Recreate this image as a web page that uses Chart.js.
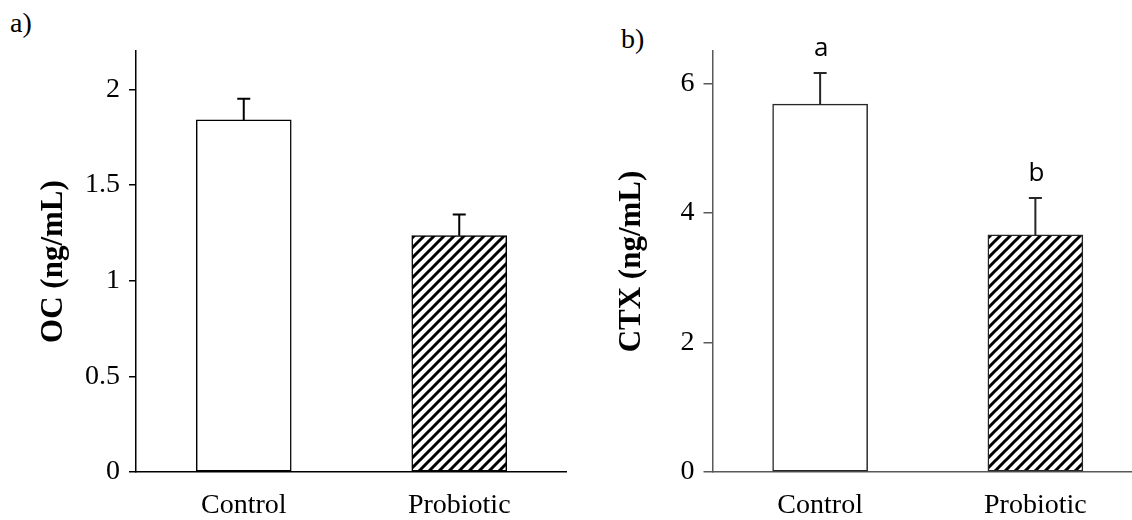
<!DOCTYPE html>
<html>

<head>
    <meta charset="utf-8">
    <title>OC and CTX</title>
    <script src="https://cdn.jsdelivr.net/npm/chart.js"></script>
    <style>
        body { margin: 0; width: 1132px; height: 520px; overflow: hidden; background: #fff; position: relative; }
        .panel { position: absolute; top: 0; }
        .tag { position: absolute; font-family: "Liberation Serif", "Times New Roman", serif; font-size: 28px; line-height: 28px; color: #000; }
    </style>
</head>

<body>
    <div class="tag" style="left: 10px; top: 9px;">a)</div>
    <div class="tag" style="left: 621px; top: 25px;">b)</div>
    <canvas id="chartA" class="panel" width="567" height="520" style="left: 0;"></canvas>
    <canvas id="chartB" class="panel" width="577" height="520" style="left: 566px;"></canvas>
    <script>
    // data
    const categories = ['Control', 'Probiotic'];
    const ocMeans = [1.84, 1.235];
    const ocErrors = [0.11, 0.11];
    const ocTicks = [0, 0.5, 1, 1.5, 2];
    const ctxMeans = [5.68, 3.66];
    const ctxErrors = [0.48, 0.57];
    const ctxLetters = ['a', 'b'];
    const ctxTicks = [0, 2, 4, 6];

    const serif = '"Liberation Serif", "Times New Roman", serif';

    // diagonal hatch for the probiotic bar
    function hatch() {
        const c = document.createElement('canvas');
        c.width = 10;
        c.height = 10;
        const g = c.getContext('2d');
        g.fillStyle = '#fff';
        g.fillRect(0, 0, 10, 10);
        g.strokeStyle = '#000';
        g.lineWidth = 3;
        g.beginPath();
        g.moveTo(-2, 12); g.lineTo(12, -2);
        g.moveTo(-2, 2); g.lineTo(2, -2);
        g.moveTo(8, 12); g.lineTo(12, 8);
        g.stroke();
        return g.createPattern(c, 'repeat');
    }

    // error bars (upper half only) + optional letters
    const errorBars = {
        id: 'errorBars',
        afterDatasetsDraw(chart, args, opts) {
            const ctx = chart.ctx;
            const y = chart.scales.y;
            const meta = chart.getDatasetMeta(0);
            const means = chart.data.datasets[0].data;
            ctx.save();
            ctx.strokeStyle = opts.color;
            ctx.lineWidth = 2;
            meta.data.forEach((bar, i) => {
                const top = y.getPixelForValue(means[i] + opts.errors[i]);
                const base = y.getPixelForValue(means[i]);
                ctx.beginPath();
                ctx.moveTo(bar.x, base);
                ctx.lineTo(bar.x, top);
                ctx.moveTo(bar.x - 6.5, top);
                ctx.lineTo(bar.x + 6.5, top);
                ctx.stroke();
                if (opts.letters) {
                    ctx.fillStyle = '#000';
                    ctx.font = '26px "Open Sans", sans-serif';
                    ctx.textAlign = 'center';
                    ctx.textBaseline = 'alphabetic';
                    ctx.fillText(opts.letters[i], bar.x + 1, top - 17);
                }
            });
            ctx.restore();
        }
    };

    function makeChart(id, means, errors, maxY, tickVals, title, o) {
        return new Chart(document.getElementById(id), {
            type: 'bar',
            data: {
                labels: categories,
                datasets: [{
                    data: means,
                    backgroundColor: ['#fff', hatch()],
                    borderColor: o.barLine,
                    borderWidth: 1.5,
                    borderSkipped: false,
                    barThickness: 95
                }]
            },
            options: {
                responsive: false,
                animation: false,
                events: [],
                layout: { padding: { top: 51, left: 0, right: 0, bottom: 0 } },
                plugins: {
                    legend: { display: false },
                    tooltip: { enabled: false },
                    errorBars: { errors: errors, color: o.barLine, letters: o.letters }
                },
                scales: {
                    x: {
                        offset: true,
                        grid: { display: false, drawTicks: false },
                        border: { display: true, color: o.axis, width: 1.5 },
                        ticks: { color: '#000', font: { family: serif, size: 28 }, padding: 17 },
                        afterFit: s => { s.height = 48; }
                    },
                    y: {
                        min: 0,
                        max: maxY,
                        grid: { drawOnChartArea: false, drawTicks: true, tickLength: o.tickLen, color: o.axis, lineWidth: 1.5 },
                        border: { display: true, color: o.axis, width: 1.5 },
                        ticks: { color: '#000', font: { family: serif, size: 28 }, padding: 9, callback: v => String(v) },
                        afterBuildTicks: s => { s.ticks = tickVals.map(v => ({ value: v })); },
                        afterFit: s => { s.width = o.yWidth; },
                        title: {
                            display: true,
                            text: title,
                            color: '#000',
                            font: { family: serif, size: 31, weight: 'bold' },
                            padding: { top: o.titlePad, bottom: 0 }
                        }
                    }
                }
            },
            plugins: [errorBars]
        });
    }

    makeChart('chartA', ocMeans, ocErrors, 2.2, ocTicks, 'OC (ng/mL)',
        { axis: '#000', barLine: '#000', tickLen: 7, yWidth: 136, titlePad: 35, letters: null });
    makeChart('chartB', ctxMeans, ctxErrors, 6.5, ctxTicks, 'CTX (ng/mL)',
        { axis: '#595959', barLine: '#262626', tickLen: 9, yWidth: 146.5, titlePad: 47, letters: ctxLetters });
    </script>
</body>

</html>
